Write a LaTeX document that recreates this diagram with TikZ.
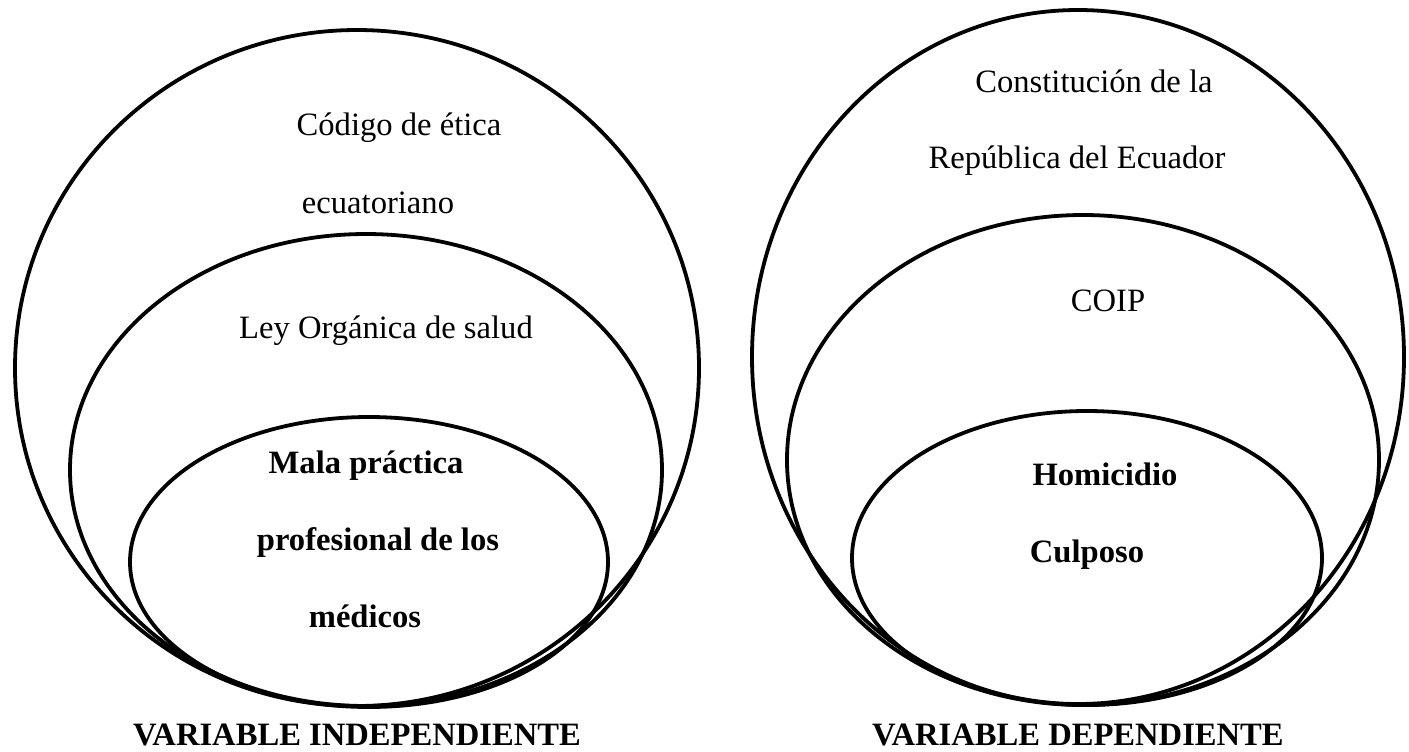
\documentclass[tikz,border=0pt]{standalone}
\usepackage{fontspec}
\setmainfont{Liberation Serif}
\begin{document}
\begin{tikzpicture}[x=0.5pt,y=-0.5pt,line width=1.9pt,
            txt/.style={font=\fontsize{16.3}{19}\selectfont,anchor=base,inner sep=0pt},
            bold/.style={txt,font=\fontsize{16.3}{19}\selectfont\bfseries}]
            \useasboundingbox (0,0) rectangle (1409,751);
            \draw (357,368) ellipse [x radius=342, y radius=338];
            \draw (366,470) ellipse [x radius=296, y radius=236];
            \draw (369,562) ellipse [x radius=239, y radius=145];
            \draw (1078,357) ellipse [x radius=326, y radius=347];
            \draw (1083,460) ellipse [x radius=296, y radius=245];
            \draw (1087,558) ellipse [x radius=235, y radius=147];
            \node[txt] (1) at (399,135) {Código de ética};
            \node[txt] (2) at (378,213) {ecuatoriano};
            \node[txt] (3) at (386,338) {Ley Orgánica de salud};
            \node[bold] (4) at (366,473) {Mala práctica};
            \node[bold] (5) at (378,550) {profesional de los};
            \node[bold] (6) at (365,627) {médicos};
            \node[bold] (7) at (357,745) {VARIABLE INDEPENDIENTE};
            \node[txt] (8) at (1094,92) {Constitución de la};
            \node[txt] (9) at (1077,168) {República del Ecuador};
            \node[txt] (10) at (1108,311) {COIP};
            \node[bold] (11) at (1105,485) {Homicidio};
            \node[bold] (12) at (1087,562) {Culposo};
            \node[bold] (13) at (1078,745) {VARIABLE DEPENDIENTE};
        \end{tikzpicture}
\end{document}
